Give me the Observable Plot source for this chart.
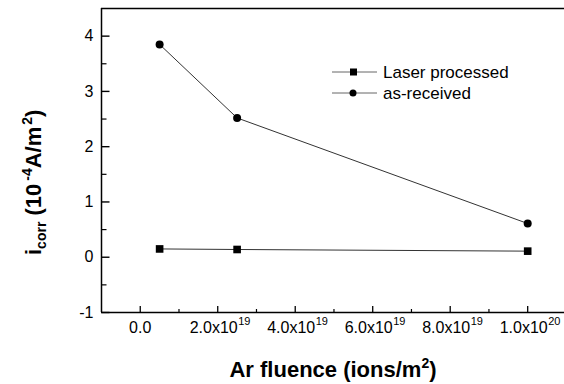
<!DOCTYPE html>
<html><head><meta charset="utf-8">
<script src="https://cdn.jsdelivr.net/npm/d3@7"></script>
<script src="https://cdn.jsdelivr.net/npm/@observablehq/plot@0.6"></script>
<style>body{margin:0;background:#fff;} svg{display:block}</style>
</head><body><div id="chart"></div>
<script>
const fluence = [5e18, 2.5e19, 1e20];
const laserProcessed = [0.15, 0.14, 0.11];
const asReceived = [3.85, 2.52, 0.61];
const seriesNames = ["Laser processed", "as-received"];
const xTicks = [0, 2e19, 4e19, 6e19, 8e19, 1e20];
const xTickMantissa = ["0.0", "2.0x10", "4.0x10", "6.0x10", "8.0x10", "1.0x10"];
const xTickExponent = ["", "19", "19", "19", "19", "20"];
const xMinorTicks = [1e19, 3e19, 5e19, 7e19, 9e19];
const yTicks = [-1, 0, 1, 2, 3, 4];
const yMinorTicks = [-0.5, 0.5, 1.5, 2.5, 3.5];
const xDomain = [-1e19, 1.095e20];
const yDomain = [-1, 4.5];

const rows = fluence.flatMap((f, i) => [
  {x: f, y: laserProcessed[i], s: seriesNames[0]},
  {x: f, y: asReceived[i], s: seriesNames[1]}
]);
const xLabels = xTicks.map((t, i) => ({t, m: xTickMantissa[i], e: xTickExponent[i]}));

const W = 564, H = 384, mL = 101, mR = 0, mT = 8, mB = 72;
const innerW = W - mL - mR, innerH = H - mT - mB;
const font = "'Liberation Sans', Arial, sans-serif";
// inward horizontal tick symbol of fixed pixel length
const hTick = len => ({draw(ctx) { ctx.moveTo(0, 0); ctx.lineTo(len, 0); }});
const plot = Plot.plot({
  width: W, height: H, marginLeft: mL, marginRight: mR, marginTop: mT, marginBottom: mB,
  style: {fontFamily: font, background: "#fff", color: "#000", overflow: "visible"},
  x: {domain: xDomain, axis: null},
  y: {domain: yDomain},
  marks: [
    Plot.tickX(xTicks, {x: d => d, insetTop: innerH - 6, stroke: "#000", strokeWidth: 1.3}),
    Plot.tickX(xMinorTicks, {x: d => d, insetTop: innerH - 3, stroke: "#000", strokeWidth: 1.2}),
    Plot.dot(yTicks, {x: xDomain[0], y: d => d, r: 1, symbol: hTick(8), fill: "none", stroke: "#000", strokeWidth: 1.4}),
    Plot.dot(yMinorTicks, {x: xDomain[0], y: d => d, r: 1, symbol: hTick(5), fill: "none", stroke: "#000", strokeWidth: 1.2}),
    Plot.axisY({ticks: yTicks, tickSize: 0, tickPadding: 8, fontSize: 16, tickFormat: d => String(d), label: null}),
    Plot.text(xLabels.filter(d => !d.e), {x: "t", y: yDomain[0], text: "m", dy: 15, fontSize: 16}),
    Plot.text(xLabels.filter(d => d.e), {x: "t", y: yDomain[0], text: "m", dy: 15, dx: 20, textAnchor: "end", fontSize: 16}),
    Plot.text(xLabels.filter(d => d.e), {x: "t", y: yDomain[0], text: "e", dy: 9, dx: 20.5, textAnchor: "start", fontSize: 11}),
    Plot.ruleX([xDomain[0]], {strokeWidth: 1.5}),
    Plot.ruleY([yDomain[0], yDomain[1]], {strokeWidth: 1.5}),
    Plot.line(rows, {x: "x", y: "y", z: "s", stroke: "#333", strokeWidth: 1}),
    Plot.dot(rows.filter(d => d.s === seriesNames[0]), {x: "x", y: "y", symbol: "square", r: 4.3, fill: "#000"}),
    Plot.dot(rows.filter(d => d.s === seriesNames[1]), {x: "x", y: "y", symbol: "circle", r: 4, fill: "#000"})
  ]
});
document.getElementById("chart").appendChild(plot);

const svg = d3.select(plot);
// legend
const lg = svg.append("g").attr("font-family", font).attr("font-size", 17).attr("fill", "#000").attr("text-anchor", "start");
const legendY = [72, 93];
seriesNames.forEach((name, i) => {
  const y = legendY[i];
  lg.append("line").attr("x1", 332).attr("x2", 377).attr("y1", y).attr("y2", y).attr("stroke", "#666");
  if (i === 0) lg.append("rect").attr("x", 350).attr("y", y - 3.5).attr("width", 7).attr("height", 7);
  else lg.append("circle").attr("cx", 353).attr("cy", y).attr("r", 3.5);
  lg.append("text").attr("x", 383).attr("y", y + 6).text(name);
});
// y title
const yt = svg.append("text").attr("transform", "translate(41,255) rotate(-90)").attr("text-anchor", "start")
  .attr("font-family", font).attr("font-weight", "bold").attr("font-size", 22).attr("fill", "#000");
yt.append("tspan").text("i");
yt.append("tspan").attr("font-size", 14).attr("dy", 5).text("corr");
yt.append("tspan").attr("dy", -5).text(" (10");
yt.append("tspan").attr("font-size", 14).attr("dy", -9).attr("dx", 3).text("-4");
yt.append("tspan").attr("dy", 9).text("A/m");
yt.append("tspan").attr("font-size", 14).attr("dy", -9).attr("dx", 2).text("2");
yt.append("tspan").attr("dy", 9).text(")");
// x title
const xt = svg.append("text").attr("x", 333).attr("y", 377).attr("text-anchor", "middle")
  .attr("font-family", font).attr("font-weight", "bold").attr("font-size", 22).attr("fill", "#000");
xt.append("tspan").text("Ar fluence (ions/m");
xt.append("tspan").attr("font-size", 14).attr("dy", -9).text("2");
xt.append("tspan").attr("dy", 9).text(")");
</script>
</body></html>
